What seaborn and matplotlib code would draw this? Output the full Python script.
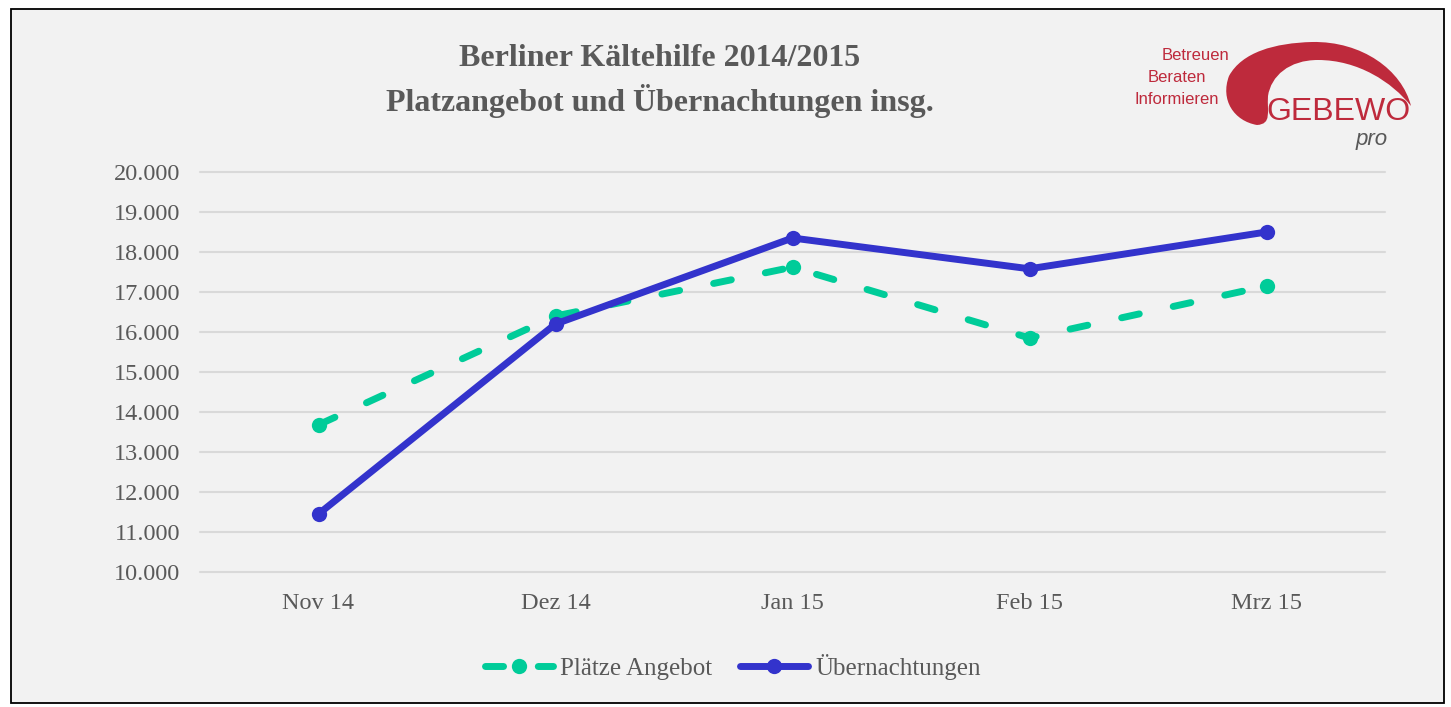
import matplotlib
matplotlib.use("Agg")
import matplotlib.pyplot as plt
from matplotlib.path import Path
from matplotlib.patches import PathPatch, Rectangle
import seaborn as sns
import pandas as pd

# ---- data ----
months = ["Nov 14", "Dez 14", "Jan 15", "Feb 15", "Mrz 15"]
plaetze = [13680, 16400, 17620, 15850, 17150]
uebernachtungen = [11450, 16200, 18350, 17580, 18500]
series_names = ["Plätze Angebot", "Übernachtungen"]
yticks = list(range(10000, 20001, 1000))
ytick_labels = [f"{v:,}".replace(",", ".") for v in yticks]

GREEN = "#00CC99"
BLUE = "#3333CC"
GRAY = "#595959"
BG = "#F2F2F2"
RED = "#BE2A3C"

sns.set_theme(style="white")
plt.rcParams["font.family"] = ["Liberation Serif", "DejaVu Serif"]

W, H = 1451, 707
fig = plt.figure(figsize=(W / 100, H / 100), dpi=100)
fig.patch.set_facecolor("white")

def fx(x): return x / W
def fy(y): return 1 - y / H

# background panel with black border
fig.patches.append(Rectangle((fx(11), fy(703)), fx(1444) - fx(11), fy(9) - fy(703),
                             transform=fig.transFigure, facecolor=BG, edgecolor="black",
                             linewidth=1.3, zorder=0))

ax = fig.add_axes([fx(200), fy(572), fx(1385) - fx(200), fy(172) - fy(572)])
ax.set_facecolor("none")
ax.set_zorder(2)

df1 = pd.DataFrame({"Monat": months, "Wert": plaetze})
df2 = pd.DataFrame({"Monat": months, "Wert": uebernachtungen})

sns.lineplot(data=df1, x="Monat", y="Wert", ax=ax, color=GREEN, linewidth=5,
             marker="o", markersize=11, markeredgewidth=0, label=series_names[0],
             sort=False, zorder=3)
l1 = ax.lines[-1]
l1.set_dashes((2.6, 5.0))
l1.set_dash_capstyle("round")
sns.lineplot(data=df2, x="Monat", y="Wert", ax=ax, color=BLUE, linewidth=5,
             marker="o", markersize=11, markeredgewidth=0, label=series_names[1],
             sort=False, zorder=4)
l2 = ax.lines[-1]
l2.set_solid_capstyle("round")

ax.set_xlim(-0.5, 4.5)
ax.set_ylim(10000, 20000)
ax.set_yticks(yticks)
ax.set_yticklabels(ytick_labels)
ax.set_xlabel("")
ax.set_ylabel("")
ax.grid(axis="y", color="#D9D9D9", linewidth=1.5, zorder=0)
ax.grid(axis="x", visible=False)
for gl in ax.get_ygridlines():
    gl.set_clip_on(False)
ax.set_axisbelow(True)
for s in ax.spines.values():
    s.set_visible(False)
ax.tick_params(axis="both", length=0, labelsize=17.5, labelcolor=GRAY)
ax.tick_params(axis="y", pad=14)
ax.tick_params(axis="x", pad=15)

leg = ax.legend(handles=[l1, l2], labels=series_names, loc="center",
                bbox_to_anchor=(fx(733), fy(667)), bbox_transform=fig.transFigure,
                ncol=2, frameon=False, fontsize=18, handlelength=2.7,
                handletextpad=0.3, columnspacing=1.1)
for t in leg.get_texts():
    t.set_color(GRAY)

# title
fig.text(fx(660), fy(58), "Berliner Kältehilfe 2014/2015", ha="center", va="center",
         fontsize=23, fontweight="bold", color=GRAY)
fig.text(fx(660), fy(101), "Platzangebot und Übernachtungen insg.", ha="center",
         va="center", fontsize=23, fontweight="bold", color=GRAY)

# logo
pts = [(1257, 125),
       (1234, 121), (1220, 100), (1229, 76),
       (1242, 52), (1275, 43), (1312, 42),
       (1362, 41), (1402, 70), (1411, 106),
       (1392, 82), (1358, 60), (1318, 60),
       (1289, 60), (1271, 76), (1268, 96),
       (1267, 112), (1272, 124), (1257, 125)]
codes = [Path.MOVETO] + [Path.CURVE4] * 18
verts = [(fx(x), fy(y)) for x, y in pts]
fig.patches.append(PathPatch(Path(verts, codes), transform=fig.transFigure,
                             facecolor=RED, edgecolor="none", zorder=2))
sans = ["Liberation Sans", "DejaVu Sans"]
fig.text(fx(1229), fy(55), "Betreuen", ha="right", va="center", fontsize=12,
         color=RED, family=sans)
fig.text(fx(1206), fy(77), "Beraten", ha="right", va="center", fontsize=12,
         color=RED, family=sans)
fig.text(fx(1219), fy(100), "Informieren", ha="right", va="center", fontsize=12,
         color=RED, family=sans)
fig.text(fx(1338), fy(112), "GEBEWO", ha="center", va="center", fontsize=23,
         color=RED, family=sans, zorder=3)
fig.text(fx(1372), fy(140), "pro", ha="center", va="center", fontsize=16,
         color=GRAY, family=sans, style="italic")

fig.savefig("out.png", dpi=100, facecolor="white")
